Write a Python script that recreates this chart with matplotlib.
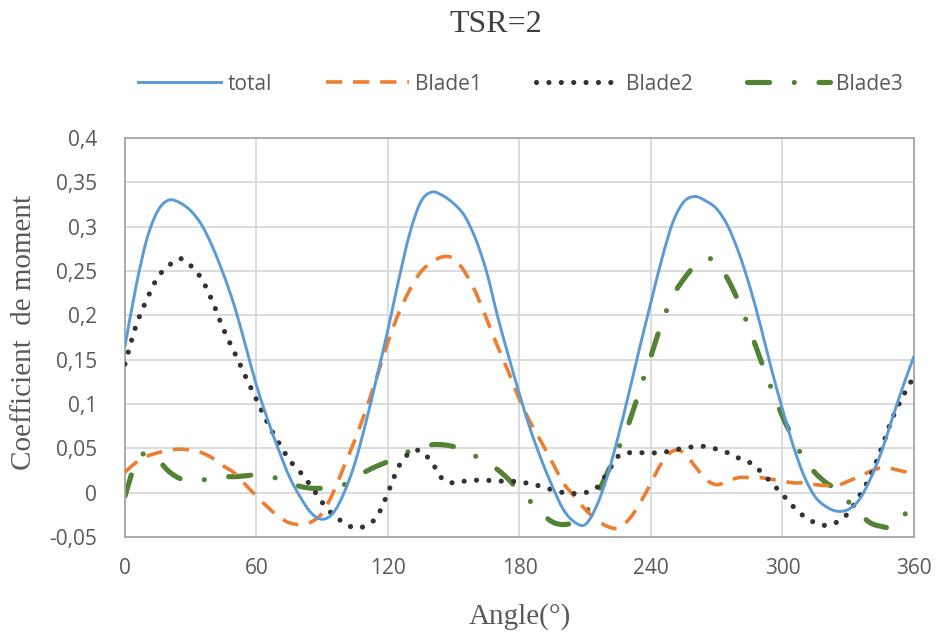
import numpy as np
import matplotlib
matplotlib.use("Agg")
import matplotlib.pyplot as plt
from matplotlib.path import Path
from matplotlib.patches import PathPatch
from matplotlib.lines import Line2D

# angle in degrees, every 5 deg
angle = list(range(0, 365, 5))

total = [0.165, 0.232, 0.286, 0.318, 0.33, 0.327, 0.318, 0.302, 0.277, 0.246,
         0.21, 0.166, 0.121, 0.083, 0.049, 0.018, -0.005, -0.023, -0.03, -0.023,
         0.0, 0.034, 0.08, 0.131, 0.184, 0.241, 0.293, 0.328, 0.339, 0.335,
         0.326, 0.312, 0.286, 0.249, 0.199, 0.154, 0.111, 0.071, 0.037, 0.007,
         -0.019, -0.033, -0.036, -0.016, 0.018, 0.063, 0.113, 0.165, 0.215, 0.264,
         0.305, 0.328, 0.334, 0.329, 0.32, 0.301, 0.271, 0.233, 0.188, 0.139,
         0.094, 0.052, 0.018, -0.005, -0.016, -0.021, -0.019, -0.008, 0.015, 0.045,
         0.083, 0.12, 0.154]

blade1 = [0.023, 0.034, 0.041, 0.045, 0.048, 0.049, 0.048, 0.045, 0.039, 0.03,
          0.022, 0.009, -0.004, -0.016, -0.027, -0.034, -0.036, -0.033, -0.023, 0.0,
          0.03, 0.06, 0.094, 0.131, 0.17, 0.203, 0.229, 0.249, 0.26, 0.266,
          0.264, 0.249, 0.226, 0.196, 0.165, 0.136, 0.105, 0.079, 0.057, 0.034,
          0.011, -0.004, -0.019, -0.03, -0.038, -0.04, -0.03, -0.012, 0.011, 0.034,
          0.047, 0.045, 0.03, 0.015, 0.009, 0.013, 0.017, 0.017, 0.017, 0.015,
          0.013, 0.011, 0.011, 0.009, 0.008, 0.008, 0.013, 0.018, 0.024, 0.028,
          0.027, 0.024, 0.022]

blade2 = [0.145, 0.188, 0.218, 0.243, 0.256, 0.264, 0.256, 0.241, 0.215, 0.184,
          0.158, 0.131, 0.105, 0.079, 0.057, 0.037, 0.023, 0.007, -0.011, -0.025,
          -0.034, -0.04, -0.037, -0.027, 0.0, 0.03, 0.045, 0.047, 0.034, 0.015,
          0.011, 0.013, 0.014, 0.014, 0.013, 0.013, 0.012, 0.010, 0.007, 0.003,
          0.0, -0.001, 0.0, 0.005, 0.022, 0.041, 0.045, 0.045, 0.045, 0.045,
          0.048, 0.05, 0.052, 0.052, 0.049, 0.045, 0.039, 0.034, 0.024, 0.011,
          -0.002, -0.016, -0.027, -0.034, -0.037, -0.033, -0.023, -0.004, 0.018, 0.049,
          0.083, 0.109, 0.131]

blade3 = [-0.004, 0.034, 0.045, 0.037, 0.024, 0.016, 0.013, 0.014, 0.017, 0.018,
          0.018, 0.019, 0.02, 0.018, 0.016, 0.011, 0.007, 0.005, 0.005, 0.006,
          0.009, 0.017, 0.024, 0.03, 0.035, 0.041, 0.047, 0.05, 0.054, 0.054,
          0.052, 0.049, 0.041, 0.034, 0.026, 0.015, 0.001, -0.01, -0.023, -0.033,
          -0.036, -0.033, -0.023, -0.004, 0.022, 0.049, 0.079, 0.117, 0.154, 0.192,
          0.222, 0.241, 0.256, 0.264, 0.26, 0.241, 0.215, 0.184, 0.15, 0.117,
          0.086, 0.06, 0.037, 0.022, 0.011, 0.003, -0.01, -0.023, -0.034, -0.038,
          -0.039, -0.027, -0.011]

xticks = [0, 60, 120, 180, 240, 300, 360]
yticks = [-0.05, 0, 0.05, 0.1, 0.15, 0.2, 0.25, 0.3, 0.35, 0.4]
ytick_labels = ["-0,05", "0", "0,05", "0,1", "0,15", "0,2", "0,25", "0,3", "0,35", "0,4"]

serif = ["Liberation Serif", "DejaVu Serif"]
sans = ["Open Sans", "DejaVu Sans"]
grey = "#595959"


def smooth_path(xs, ys):
    # excel-like smoothed line: bezier segments through the data points
    pts = np.column_stack([xs, ys]).astype(float)
    n = len(pts)
    verts = [pts[0]]
    codes = [Path.MOVETO]
    for i in range(n - 1):
        p0 = pts[i - 1] if i > 0 else pts[i]
        p1 = pts[i]
        p2 = pts[i + 1]
        p3 = pts[i + 2] if i + 2 < n else pts[i + 1]
        verts += [p1 + (p2 - p0) / 6, p2 - (p3 - p1) / 6, p2]
        codes += [Path.CURVE4] * 3
    return Path(verts, codes)


series = [
    ("total", total, dict(color="#5B9BD5", lw=2.1, ls="-", cap="butt", z=5)),
    ("Blade1", blade1, dict(color="#ED7D31", lw=2.6, ls=(0, (4.5, 3)), cap="butt", z=3)),
    ("Blade2", blade2, dict(color="#333333", lw=3.7, ls=(0, (0.01, 2.4)), cap="round", z=4)),
    ("Blade3", blade3, dict(color="#548235", lw=3.7, ls=(0, (4.3, 4.8, 0.01, 4.8)), cap="round", z=2)),
]

fig = plt.figure(figsize=(9.36, 6.33), dpi=100)
ax = fig.add_axes([0.1335, 0.1517, 0.843, 0.6303])

handles = []
for name, vals, st in series:
    p = PathPatch(smooth_path(angle, vals), fill=False, edgecolor=st["color"],
                  lw=st["lw"], linestyle=st["ls"], capstyle=st["cap"], zorder=st["z"])
    ax.add_patch(p)
    handles.append(Line2D([], [], color=st["color"], lw=st["lw"], linestyle=st["ls"],
                          dash_capstyle=st["cap"], label=name))

ax.set_xlim(0, 360)
ax.set_ylim(-0.05, 0.4)
ax.set_xticks(xticks)
ax.set_xticklabels([str(v) for v in xticks], family=sans, fontsize=15, color=grey)
ax.set_yticks(yticks)
ax.set_yticklabels(ytick_labels, family=sans, fontsize=15, color=grey)
ax.tick_params(axis="x", length=0, pad=15)
ax.tick_params(axis="y", length=0, pad=20)
ax.grid(color="#d9d9d9", lw=1.3)
ax.set_axisbelow(True)
for s in ax.spines.values():
    s.set_color("#a6a6a6")
    s.set_linewidth(1.3)

fig.text(0.5555, 1 - 617 / 633, "Angle(°)", family=serif, fontsize=21, color=grey,
         ha="center", va="center")
fig.text(24 / 936, 1 - 333 / 633, "Coefficient  de moment", family=serif, fontsize=21,
         color=grey, rotation=90, ha="center", va="center")
fig.text(0.53, 1 - 25 / 633, "TSR=2", family=serif, fontsize=23, color="#404040",
         ha="center", va="center")

leg = fig.legend(handles=handles, loc="center", bbox_to_anchor=(0.556, 1 - 84 / 633), ncol=4,
                 frameon=False, prop={"family": sans, "size": 15}, handlelength=4.0,
                 columnspacing=2.6, handletextpad=0.3)
for t in leg.get_texts():
    t.set_color(grey)

fig.savefig("out.png", dpi=100)
